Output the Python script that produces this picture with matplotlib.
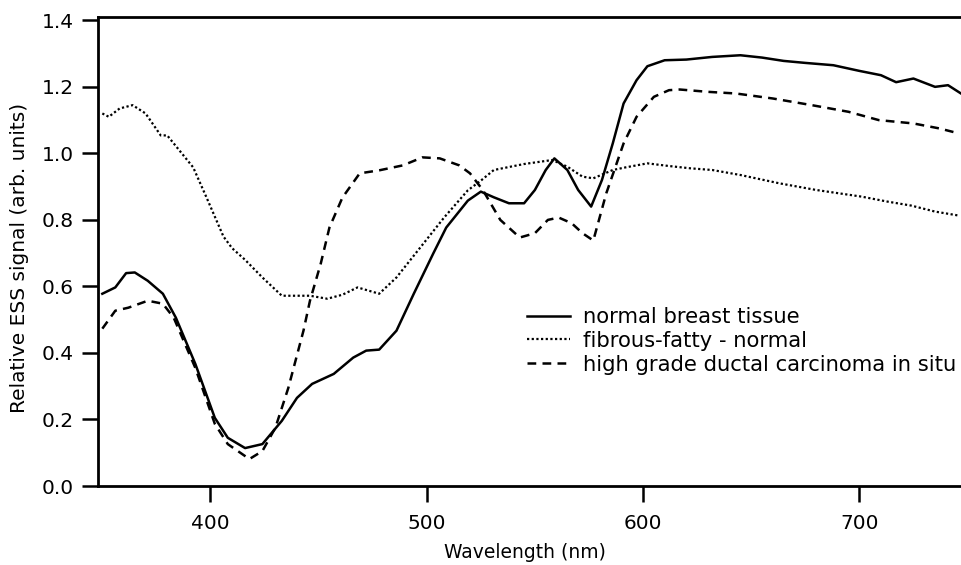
import matplotlib.pyplot as plt

plt.rcParams['font.family'] = ['DejaVu Sans']

# normal breast tissue (solid)
wl_normal = [350, 356, 361, 365, 371, 378, 384, 393, 402, 408, 416, 424, 433,
             440, 447, 457, 466, 472, 478, 486, 494, 503, 509, 519, 525, 531,
             538, 545, 550, 555, 559, 565, 570, 576, 581, 586, 591, 597, 602,
             610, 620, 632, 645, 655, 665, 675, 688, 700, 710, 717, 725, 735,
             741, 747]
sig_normal = [0.578, 0.597, 0.640, 0.642, 0.617, 0.578, 0.506, 0.367, 0.205,
              0.145, 0.114, 0.126, 0.196, 0.265, 0.307, 0.337, 0.386, 0.407,
              0.410, 0.467, 0.578, 0.699, 0.777, 0.858, 0.885, 0.868, 0.850,
              0.850, 0.890, 0.950, 0.985, 0.950, 0.890, 0.840, 0.920, 1.030,
              1.150, 1.220, 1.262, 1.280, 1.282, 1.290, 1.295, 1.288, 1.278,
              1.272, 1.265, 1.248, 1.235, 1.214, 1.225, 1.200, 1.205, 1.180]

# fibrous-fatty - normal (dotted)
wl_fibrous = [350, 353, 358, 364, 370, 377, 380, 392, 398, 402, 406, 410, 416,
              424, 433, 439, 446, 454, 461, 468, 478, 486, 497, 508, 519, 525,
              531, 545, 558, 565, 572, 577, 586, 592, 602, 612, 622, 632, 645,
              663, 680, 701, 713, 724, 735, 746]
sig_fibrous = [1.120, 1.110, 1.135, 1.145, 1.120, 1.054, 1.054, 0.958, 0.870,
               0.810, 0.750, 0.715, 0.680, 0.627, 0.572, 0.572, 0.572, 0.563,
               0.575, 0.597, 0.578, 0.627, 0.717, 0.807, 0.889, 0.918, 0.950,
               0.968, 0.980, 0.960, 0.930, 0.925, 0.950, 0.958, 0.970, 0.962,
               0.955, 0.950, 0.935, 0.910, 0.890, 0.870, 0.855, 0.843, 0.825,
               0.813]

# high grade ductal carcinoma in situ (dashed)
wl_dcis = [350, 356, 362, 371, 378, 383, 393, 402, 408, 418, 424, 430, 436,
           443, 446, 451, 455, 461, 469, 478, 489, 498, 506, 515, 520, 526,
           534, 543, 550, 556, 561, 567, 572, 577, 583, 591, 597, 605, 612,
           617, 630, 643, 660, 678, 695, 709, 725, 737, 746]
sig_dcis = [0.473, 0.527, 0.536, 0.557, 0.548, 0.506, 0.355, 0.187, 0.126,
            0.081, 0.105, 0.175, 0.295, 0.467, 0.557, 0.669, 0.777, 0.867,
            0.940, 0.949, 0.964, 0.988, 0.985, 0.964, 0.940, 0.889, 0.800,
            0.747, 0.760, 0.800, 0.807, 0.790, 0.760, 0.738, 0.880, 1.030,
            1.110, 1.170, 1.190, 1.192, 1.185, 1.180, 1.165, 1.145, 1.125,
            1.100, 1.090, 1.075, 1.060]

fig = plt.figure(figsize=(9.61, 5.65), dpi=100)
ax = fig.add_axes([98 / 961, 1 - 486 / 565, 1 - 98 / 961, (486 - 17) / 565])

ax.plot(wl_normal, sig_normal, c='k', lw=1.8, label='normal breast tissue')
ax.plot(wl_fibrous, sig_fibrous, c='k', lw=1.6, ls=(0, (1, 1.1)),
        label='fibrous-fatty - normal')
ax.plot(wl_dcis, sig_dcis, c='k', lw=1.8, ls=(0, (3.5, 2.5)),
        label='high grade ductal carcinoma in situ')

ax.set_xlim(348, 747)
ax.set_ylim(0, 1.41)
ax.set_xticks([400, 500, 600, 700])
ax.set_yticks([0.0, 0.2, 0.4, 0.6, 0.8, 1.0, 1.2, 1.4])
ax.set_yticklabels(['0.0', '0.2', '0.4', '0.6', '0.8', '1.0', '1.2', '1.4'])
ax.tick_params(direction='out', length=11.5, width=1.8, labelsize=14.5)
ax.tick_params(axis='x', pad=9)
ax.tick_params(axis='y', pad=6)

ax.spines['right'].set_visible(False)
for s in ['left', 'bottom', 'top']:
    ax.spines[s].set_linewidth(2)

ax.set_xlabel('Wavelength (nm)', fontsize=13.5)
ax.set_ylabel('Relative ESS signal (arb. units)', fontsize=14.5)
ax.xaxis.set_label_coords((525 - 98) / (961 - 98), -(553 - 486) / (486 - 17))
ax.yaxis.set_label_coords(-(98 - 20) / (961 - 98), (486 - 258) / (486 - 17))
ax.xaxis.label.set_va('center')
ax.yaxis.label.set_va('center')

ax.legend(loc='upper left', bbox_to_anchor=(527 / 961, 1 - 307 / 565),
          bbox_transform=fig.transFigure, frameon=False, fontsize=15.2,
          handlelength=2.05, handletextpad=0.62, labelspacing=0.18,
          borderpad=0, borderaxespad=0)

fig.savefig('out.png', dpi=100)
